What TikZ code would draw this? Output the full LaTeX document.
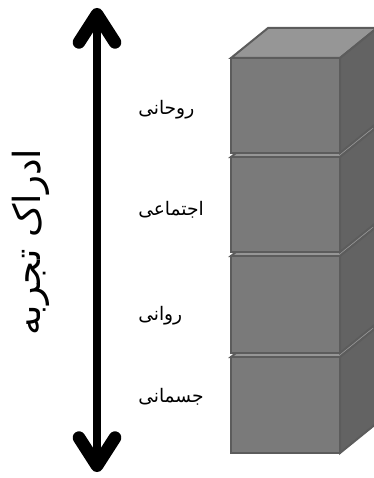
\documentclass[tikz,border=0pt]{standalone}
\usepackage{fontspec}
\newfontfamily\arabicfont[Script=Arabic]{DejaVu Sans}
\TeXXeTstate=1
\usetikzlibrary{arrows.meta}

\definecolor{cubefront}{RGB}{122,122,122}
\definecolor{cubetop}{RGB}{150,150,150}
\definecolor{cubeside}{RGB}{99,99,99}
\definecolor{cubeedge}{RGB}{92,92,92}

\tikzset{
  front/.style={draw=cubeedge,line width=1.5pt,fill=cubefront},
  topface/.style={draw=cubeedge,line width=1.5pt,fill=cubetop},
  sideface/.style={draw=cubeedge,line width=1.5pt,fill=cubeside},
  levellabel/.style={anchor=west,inner sep=0pt,font=\arabicfont\fontsize{14}{17}\selectfont},
  axislabel/.style={rotate=90,inner sep=0pt,font=\arabicfont\fontsize{28}{32}\selectfont},
  updown/.style={line width=6pt,{Straight Barb[length=21pt,width=27pt,line width=9.5pt,round]}-{Straight Barb[length=21pt,width=27pt,line width=9.5pt,round]}}
}

\begin{document}
\begin{tikzpicture}[x=0.75pt,y=0.75pt,yscale=-1,xscale=1]
\useasboundingbox (0,0) rectangle (374,478);
\clip (0,0) rectangle (374,478);

% cube 4 (bottom)
\draw [topface] (231,357) -- (268,327) -- (377,327) -- (340,357) -- cycle ;
\draw [sideface] (340,357) -- (377,327) -- (377,423) -- (340,453) -- cycle ;
\draw [front] (231,357) rectangle (340,453) ;
% cube 3
\draw [topface] (231,256) -- (268,226) -- (377,226) -- (340,256) -- cycle ;
\draw [sideface] (340,256) -- (377,226) -- (377,323) -- (340,353) -- cycle ;
\draw [front] (231,256) rectangle (340,353) ;
% cube 2
\draw [topface] (231,157) -- (268,127) -- (377,127) -- (340,157) -- cycle ;
\draw [sideface] (340,157) -- (377,127) -- (377,222) -- (340,252) -- cycle ;
\draw [front] (231,157) rectangle (340,252) ;
% cube 1 (top)
\draw [topface] (231,58) -- (268,28) -- (377,28) -- (340,58) -- cycle ;
\draw [sideface] (340,58) -- (377,28) -- (377,123) -- (340,153) -- cycle ;
\draw [front] (231,58) rectangle (340,153) ;

% labels
\node [levellabel] (spiritual) at (138,110) {\beginR روحانی\endR};
\node [levellabel] (social) at (138,210) {\beginR اجتماعی\endR};
\node [levellabel] (psych) at (138,316) {\beginR روانی\endR};
\node [levellabel] (physical) at (138,397) {\beginR جسمانی\endR};

\node [axislabel] (perception) at (31,242) {\beginR ادراک تجربه\endR};

% arrow
\coordinate (uptip) at (97,8);
\coordinate (downtip) at (97,472);
\draw [updown] (downtip) -- (uptip) ;
\end{tikzpicture}
\end{document}
